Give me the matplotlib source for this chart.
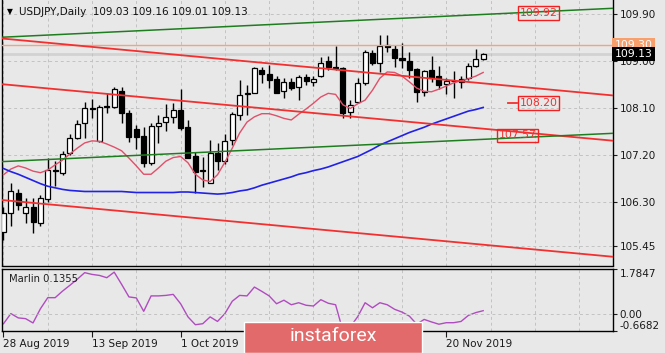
import numpy as np
import matplotlib
matplotlib.use("Agg")
import matplotlib.pyplot as plt
from matplotlib.patches import Rectangle

W, H = 665, 353
BG = "#e8e8e8"

# --- daily candles, USDJPY ---
OPEN = [105.72, 106.08, 106.48, 106.09, 106.21, 105.90, 106.35, 106.92, 106.85, 107.23,
        107.52, 107.81, 108.10, 107.47, 108.13, 108.11, 108.43, 108.01, 107.70, 107.56,
        107.04, 107.75, 107.83, 107.92, 108.07, 107.73, 107.18, 106.91, 106.67, 107.24,
        107.09, 107.49, 107.97, 108.37, 108.39, 108.83, 108.75, 108.65, 108.43, 108.60,
        108.50, 108.70, 108.60, 108.71, 109.00, 108.88, 108.87, 108.03, 108.22, 108.57,
        109.16, 108.96, 109.31, 109.22, 109.05, 108.99, 108.84, 108.41, 108.83, 108.72,
        108.56, 108.61, 108.60, 108.67, 108.90, 109.03]
HIGH = [106.20, 106.67, 106.54, 106.37, 106.37, 106.43, 107.14, 107.09, 107.28, 107.61,
        107.87, 108.22, 108.27, 108.16, 108.38, 108.51, 108.50, 108.07, 107.77, 107.74,
        107.82, 107.97, 108.18, 108.20, 108.46, 107.87, 107.26, 107.17, 107.49, 107.43,
        107.61, 108.03, 108.64, 108.54, 108.89, 108.88, 108.92, 108.71, 108.67, 108.67,
        108.73, 108.75, 108.71, 109.08, 109.10, 109.29, 108.89, 108.25, 108.67, 109.21,
        109.21, 109.50, 109.50, 109.31, 109.34, 109.17, 108.87, 108.83, 109.09, 108.90,
        108.67, 108.81, 108.71, 108.97, 109.22, 109.16]
LOW = [105.57, 105.83, 106.15, 105.89, 105.71, 105.83, 106.30, 106.60, 106.82, 107.20,
       107.50, 107.52, 107.90, 107.45, 108.01, 108.09, 107.81, 107.45, 107.31, 106.97,
       107.01, 107.42, 107.65, 107.82, 107.68, 107.14, 106.47, 106.59, 106.66, 106.91,
       107.03, 107.39, 107.87, 107.97, 108.38, 108.57, 108.48, 108.38, 108.29, 108.44,
       108.25, 108.54, 108.52, 108.69, 108.83, 108.83, 107.90, 107.90, 108.19, 108.54,
       108.92, 108.79, 109.18, 108.89, 108.86, 108.67, 108.22, 108.32, 108.60, 108.46,
       108.37, 108.29, 108.48, 108.64, 108.88, 109.01]
CLOSE = [106.09, 106.50, 106.24, 106.20, 105.92, 106.37, 106.91, 106.90, 107.21, 107.53,
         107.79, 108.09, 108.08, 108.12, 108.11, 108.46, 108.01, 107.54, 107.54, 107.04,
         107.75, 107.81, 107.92, 108.06, 107.71, 107.15, 106.88, 106.90, 107.23, 107.09,
         107.47, 107.98, 108.35, 108.38, 108.86, 108.75, 108.64, 108.39, 108.60, 108.48,
         108.69, 108.62, 108.65, 108.97, 108.89, 108.87, 108.01, 108.16, 108.57, 109.18,
         108.97, 109.29, 109.26, 109.05, 109.01, 108.82, 108.41, 108.81, 108.67, 108.54,
         108.62, 108.62, 108.65, 108.90, 109.03, 109.13]

# moving averages as drawn on the chart
MA_FAST = [106.82, 106.93, 106.99, 106.95, 106.89, 106.86, 106.91, 107.01, 107.10, 107.22,
           107.33, 107.43, 107.47, 107.46, 107.41, 107.35, 107.28, 107.14, 106.99, 106.83,
           106.83, 106.95, 107.08, 107.15, 107.17, 107.05, 106.83, 106.72, 106.69, 106.82,
           107.06, 107.33, 107.62, 107.83, 107.93, 107.99, 107.99, 107.95, 107.90, 107.87,
           107.98, 108.08, 108.19, 108.31, 108.38, 108.36, 108.16, 108.09, 108.18, 108.25,
           108.44, 108.67, 108.79, 108.78, 108.71, 108.60, 108.48, 108.42, 108.41, 108.46,
           108.52, 108.58, 108.62, 108.66, 108.71, 108.78]
MA_SLOW = [106.94, 106.88, 106.83, 106.77, 106.71, 106.65, 106.60, 106.57, 106.54, 106.52,
           106.51, 106.50, 106.50, 106.50, 106.50, 106.50, 106.50, 106.49, 106.48, 106.48,
           106.48, 106.48, 106.48, 106.48, 106.49, 106.49, 106.48, 106.47, 106.46, 106.45,
           106.46, 106.48, 106.51, 106.53, 106.57, 106.62, 106.66, 106.70, 106.74, 106.78,
           106.83, 106.86, 106.90, 106.93, 106.97, 107.02, 107.07, 107.12, 107.17, 107.24,
           107.31, 107.39, 107.45, 107.51, 107.57, 107.63, 107.68, 107.73, 107.79, 107.84,
           107.89, 107.94, 107.99, 108.04, 108.07, 108.11]

MARLIN = [-0.38, 0.02, -0.15, -0.18, -0.35, 0.21, 0.65, 0.65, 0.91, 1.14,
          1.38, 1.64, 1.57, 1.53, 1.44, 1.66, 1.18, 0.68, 0.64, 0.11,
          0.72, 0.72, 0.74, 0.78, 0.41, -0.11, -0.42, -0.38, -0.11, -0.29,
          0.02, 0.51, 0.74, 0.72, 1.07, 0.90, 0.72, 0.41, 0.55, 0.37,
          0.45, 0.35, 0.32, 0.57, 0.43, 0.37, -0.67, -0.50, -0.10, 0.45,
          0.25, 0.45, 0.37, 0.19, 0.08, -0.08, -0.40, -0.21, -0.31, -0.40,
          -0.34, -0.34, -0.29, -0.05, 0.06, 0.1355]

# trend lines: price at left edge / right edge of chart
X_EDGES = [-0.47, 82.55]
RED_TOP = [109.434, 108.340]
RED_MID = [108.559, 107.473]
RED_LOW = [106.340, 105.250]
GREEN_TOP = [109.453, 110.009]
GREEN_LOW = [107.070, 107.614]
LEVEL = 109.30
BID = 109.13

PRICE_TICKS = [109.90, 109.00, 108.10, 107.20, 106.30, 105.45]
# 17 Oct and 4 Nov sit under the logo in the original, so only these show
DATE_POS = [0, 12, 24, 60]
DATE_LABELS = ["28 Aug 2019", "13 Sep 2019", "1 Oct 2019", "20 Nov 2019"]
MARLIN_TICKS = [1.7847, 0.0, -0.6682]

plt.rcParams["font.family"] = "DejaVu Sans"
plt.rcParams["font.size"] = 7.5

fig = plt.figure(figsize=(W / 100, H / 100), dpi=100, facecolor=BG)

# pixel boxes of the two panels
L, R = 1.5, 612.7
ax = fig.add_axes([L / W, 1 - 265.5 / H, (R - L) / W, 265.5 / H], facecolor=BG)
ax2 = fig.add_axes([L / W, 1 - 331 / H, (R - L) / W, (331 - 268.5) / H], facecolor=BG)

idx = np.arange(len(OPEN))
o, h, l, c = map(np.array, (OPEN, HIGH, LOW, CLOSE))
xlim = (-0.27, 82.55)

for a in (ax, ax2):
    a.set_xlim(*xlim)
    a.set_xticks(np.arange(0, 83, 6), minor=True)
    a.grid(True, which="minor", axis="x", color="#c2c2c2", linestyle=(0, (3, 3)), lw=0.7)
    a.tick_params(which="minor", length=0)
    a.yaxis.tick_right()
    a.tick_params(axis="y", length=3, pad=2, colors="#1a1a1a", labelsize=7.5)
    for s in a.spines.values():
        s.set_color("black")
        s.set_linewidth(1)

# --- main panel ---
ax.set_ylim(105.082, 110.168)
ax.set_yticks(PRICE_TICKS)
ax.set_yticklabels([f"{v:.2f}" for v in PRICE_TICKS])
ax.grid(True, which="major", axis="y", color="#c2c2c2", linestyle=(0, (3, 3)), lw=0.7)
ax.set_xticks([])
ax.spines["top"].set_visible(False)

ax.axhline(BID, color="#d2d2d2", lw=2, zorder=1)
ax.axhline(LEVEL, color="#f4a382", lw=1, zorder=4)

ax.vlines(idx, l, h, color="black", lw=1, zorder=3)
bull = c >= o
body = np.maximum(np.abs(c - o), 0.012)
ax.bar(idx[bull], body[bull], bottom=o[bull], width=0.68, color="white",
       edgecolor="black", lw=0.9, zorder=3)
ax.bar(idx[~bull], body[~bull], bottom=c[~bull], width=0.68, color="black",
       edgecolor="black", lw=0.9, zorder=3)

ax.plot(idx, MA_FAST, color="#e0506a", lw=1, zorder=4)
ax.plot(idx, MA_SLOW, color="#2222e6", lw=1.2, zorder=4)

for p in (RED_TOP, RED_MID, RED_LOW):
    ax.plot(X_EDGES, p, color="#f23030", lw=1.3, zorder=4)
for p in (GREEN_TOP, GREEN_LOW):
    ax.plot(X_EDGES, p, color="#1e7d1e", lw=1.1, zorder=4)

ax.plot([68.3, 69.6], [108.20, 108.20], color="#f23030", lw=1.3, zorder=4)
box = dict(boxstyle="square,pad=0.15", fc="none", ec="#f22020", lw=1)
for xi, pv, txt in [(69.9, 109.92, "109.92"), (69.9, 108.195, "108.20"), (67.1, 107.575, "107.57")]:
    ax.text(xi, pv, txt, color="#f03030", fontsize=7.8, va="center", ha="left",
            bbox=box, zorder=6)

# price labels on the axis
ax.text(1.003, LEVEL, "109.30", transform=ax.get_yaxis_transform(), color="white",
        fontsize=7.8, va="center", ha="left", clip_on=False, zorder=8,
        bbox=dict(boxstyle="square,pad=0.2", fc="#f7a06e", ec="none"))
ax.text(1.003, BID, "109.13", transform=ax.get_yaxis_transform(), color="white",
        fontsize=7.8, va="center", ha="left", clip_on=False, zorder=8,
        bbox=dict(boxstyle="square,pad=0.2", fc="black", ec="none"))

fig.text(7 / W, 1 - 12 / H, "\u25BC", fontsize=5.5, va="center", ha="left", color="black")
fig.text(19 / W, 1 - 12 / H, "USDJPY,Daily  109.03 109.16 109.01 109.13",
         fontsize=7.5, va="center", ha="left", color="#101010")

# --- Marlin panel ---
ax2.set_ylim(-0.668, 1.804)
ax2.plot(idx, MARLIN, color="#b04cc0", lw=1)
ax2.axhline(0, color="#c2c2c2", linestyle=(0, (3, 3)), lw=0.7)
ax2.set_yticks(MARLIN_TICKS)
ax2.set_yticklabels(["1.7847", "0.00", "-0.6682"])
tl = ax2.get_yticklabels()
tl[0].set_va("top")
tl[2].set_va("bottom")
ax2.set_xticks(DATE_POS)
ax2.set_xticklabels(DATE_LABELS, ha="left")
ax2.tick_params(axis="x", length=4, pad=2, colors="#1a1a1a", labelsize=7.5)
ax2.text(0.012, 0.84, "Marlin 0.1355", transform=ax2.transAxes, fontsize=7.2,
         color="#202020", va="center", ha="left")

# instaforex badge
fig.patches.append(Rectangle((243.8 / W, 0), 178.2 / W, 31 / H, transform=fig.transFigure,
                             fc="#e36a6a", ec="white", lw=1, zorder=10))
fig.text(333 / W, 1 - 336 / H, "instaforex", family="Roboto", fontsize=14,
         color="white", ha="center", va="center", zorder=11)

fig.savefig("out.png", dpi=100, facecolor=BG)
